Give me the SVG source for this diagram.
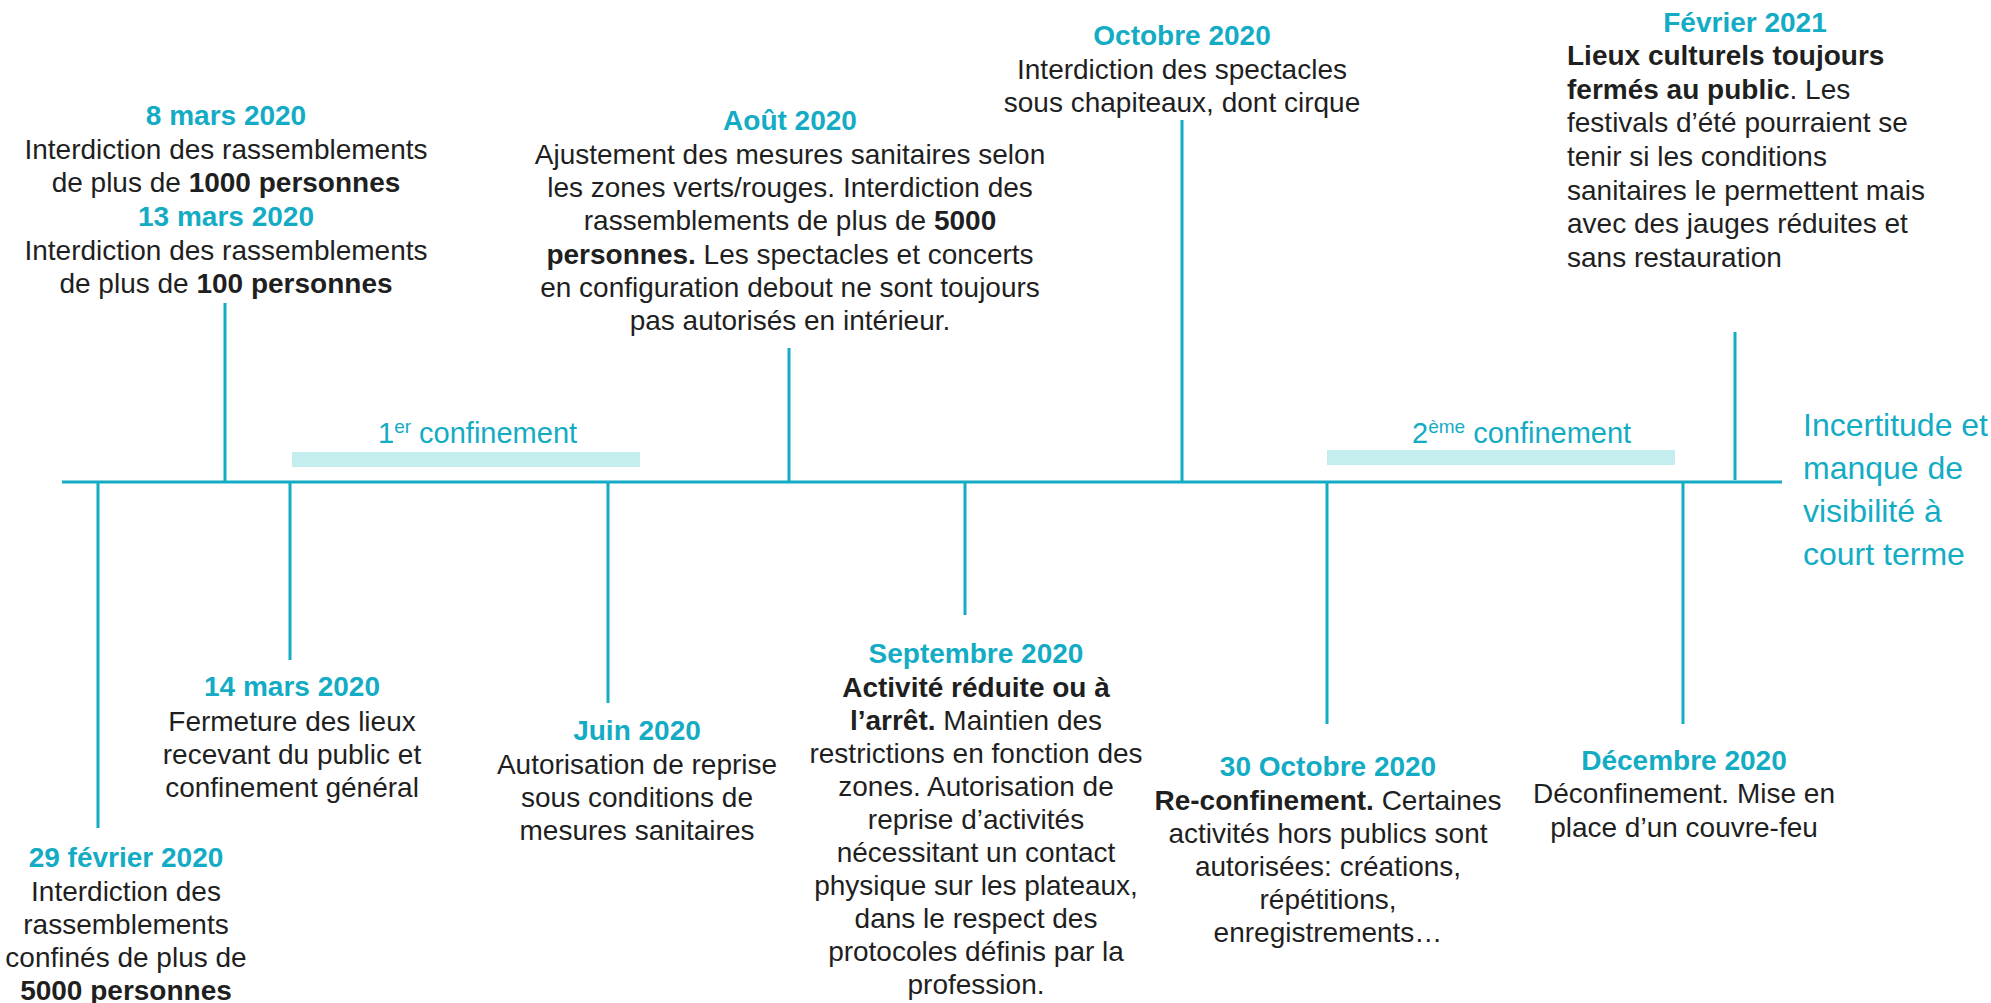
<svg xmlns="http://www.w3.org/2000/svg" width="1991" height="1003" viewBox="0 0 1991 1003">
  <style>
    text { font-family: "Liberation Sans", Arial, sans-serif; font-size: 28px; fill: #1f1f1f; }
    .c { text-anchor: middle; }
    .date { font-weight: bold; fill: #13acc4; }
    .b { font-weight: bold; }
    .period { fill: #13acc4; font-size: 29px; }
    .sup { font-size: 19px; }
    .note { fill: #13acc4; font-size: 32px; }
    .bar { fill: #c4eeee; }
    .tl { stroke: #13acc4; stroke-width: 3; fill: none; }
  </style>

  <rect width="1991" height="1003" fill="#ffffff"/>

  <!-- confinement periods -->
  <g id="confinement-1">
    <rect class="bar" x="292" y="452" width="348" height="15"/>
    <text class="period" x="378" y="443">1<tspan class="sup" dy="-10">er</tspan><tspan dy="10"> confinement</tspan></text>
  </g>
  <g id="confinement-2">
    <rect class="bar" x="1327" y="450" width="348" height="15"/>
    <text class="period" x="1412" y="443">2<tspan class="sup" dy="-10">ème</tspan><tspan dy="10"> confinement</tspan></text>
  </g>

  <!-- timeline axis and event ticks -->
  <g id="connectors">
    <line class="tl" x1="62" y1="482" x2="1782" y2="482"/>
    <line class="tl" x1="98" y1="482" x2="98" y2="828"/>
    <line class="tl" x1="225" y1="303" x2="225" y2="482"/>
    <line class="tl" x1="290" y1="482" x2="290" y2="660"/>
    <line class="tl" x1="608" y1="482" x2="608" y2="703"/>
    <line class="tl" x1="789" y1="348" x2="789" y2="482"/>
    <line class="tl" x1="965" y1="482" x2="965" y2="615"/>
    <line class="tl" x1="1182" y1="120" x2="1182" y2="482"/>
    <line class="tl" x1="1327" y1="482" x2="1327" y2="724"/>
    <line class="tl" x1="1683" y1="482" x2="1683" y2="724"/>
    <line class="tl" x1="1735" y1="332" x2="1735" y2="480"/>
  </g>

  <g id="event-29-fevrier-2020">
    <text class="c date" x="126" y="867">29 février 2020</text>
    <text class="c" x="126" y="901">Interdiction des</text>
    <text class="c" x="126" y="934">rassemblements</text>
    <text class="c" x="126" y="967">confinés de plus de</text>
    <text class="c b" x="126" y="1000">5000 personnes</text>
  </g>

  <g id="event-mars-2020">
    <text class="c date" x="226" y="125">8 mars 2020</text>
    <text class="c" x="226" y="159">Interdiction des rassemblements</text>
    <text class="c" x="226" y="192">de plus de <tspan class="b">1000 personnes</tspan></text>
    <text class="c date" x="226" y="226">13 mars 2020</text>
    <text class="c" x="226" y="260">Interdiction des rassemblements</text>
    <text class="c" x="226" y="293">de plus de <tspan class="b">100 personnes</tspan></text>
  </g>

  <g id="event-14-mars-2020">
    <text class="c date" x="292" y="696">14 mars 2020</text>
    <text class="c" x="292" y="731">Fermeture des lieux</text>
    <text class="c" x="292" y="764">recevant du public et</text>
    <text class="c" x="292" y="797">confinement général</text>
  </g>

  <g id="event-juin-2020">
    <text class="c date" x="637" y="740">Juin 2020</text>
    <text class="c" x="637" y="774">Autorisation de reprise</text>
    <text class="c" x="637" y="807">sous conditions de</text>
    <text class="c" x="637" y="840">mesures sanitaires</text>
  </g>

  <g id="event-aout-2020">
    <text class="c date" x="790" y="130">Août 2020</text>
    <text class="c" x="790" y="164">Ajustement des mesures sanitaires selon</text>
    <text class="c" x="790" y="197">les zones verts/rouges. Interdiction des</text>
    <text class="c" x="790" y="230">rassemblements de plus de <tspan class="b">5000</tspan></text>
    <text class="c" x="790" y="264"><tspan class="b">personnes.</tspan> Les spectacles et concerts</text>
    <text class="c" x="790" y="297">en configuration debout ne sont toujours</text>
    <text class="c" x="790" y="330">pas autorisés en intérieur.</text>
  </g>

  <g id="event-septembre-2020">
    <text class="c date" x="976" y="663">Septembre 2020</text>
    <text class="c b" x="976" y="697">Activité réduite ou à</text>
    <text class="c" x="976" y="730"><tspan class="b">l’arrêt.</tspan> Maintien des</text>
    <text class="c" x="976" y="763">restrictions en fonction des</text>
    <text class="c" x="976" y="796">zones. Autorisation de</text>
    <text class="c" x="976" y="829">reprise d’activités</text>
    <text class="c" x="976" y="862">nécessitant un contact</text>
    <text class="c" x="976" y="895">physique sur les plateaux,</text>
    <text class="c" x="976" y="928">dans le respect des</text>
    <text class="c" x="976" y="961">protocoles définis par la</text>
    <text class="c" x="976" y="994">profession.</text>
  </g>

  <g id="event-octobre-2020">
    <text class="c date" x="1182" y="45">Octobre 2020</text>
    <text class="c" x="1182" y="79">Interdiction des spectacles</text>
    <text class="c" x="1182" y="112">sous chapiteaux, dont cirque</text>
  </g>

  <g id="event-30-octobre-2020">
    <text class="c date" x="1328" y="776">30 Octobre 2020</text>
    <text class="c" x="1328" y="810"><tspan class="b">Re-confinement.</tspan> Certaines</text>
    <text class="c" x="1328" y="843">activités hors publics sont</text>
    <text class="c" x="1328" y="876">autorisées: créations,</text>
    <text class="c" x="1328" y="909">répétitions,</text>
    <text class="c" x="1328" y="942">enregistrements…</text>
  </g>

  <g id="event-decembre-2020">
    <text class="c date" x="1684" y="770">Décembre 2020</text>
    <text class="c" x="1684" y="803">Déconfinement. Mise en</text>
    <text class="c" x="1684" y="837">place d’un couvre-feu</text>
  </g>

  <g id="event-fevrier-2021">
    <text class="c date" x="1745" y="32">Février 2021</text>
    <text class="b" x="1567" y="65">Lieux culturels toujours</text>
    <text x="1567" y="99"><tspan class="b">fermés au public</tspan>. Les</text>
    <text x="1567" y="132">festivals d’été pourraient se</text>
    <text x="1567" y="166">tenir si les conditions</text>
    <text x="1567" y="200">sanitaires le permettent mais</text>
    <text x="1567" y="233">avec des jauges réduites et</text>
    <text x="1567" y="267">sans restauration</text>
  </g>

  <g id="outlook">
    <text class="note" x="1803" y="436">Incertitude et</text>
    <text class="note" x="1803" y="479">manque de</text>
    <text class="note" x="1803" y="522">visibilité à</text>
    <text class="note" x="1803" y="565">court terme</text>
  </g>
</svg>
